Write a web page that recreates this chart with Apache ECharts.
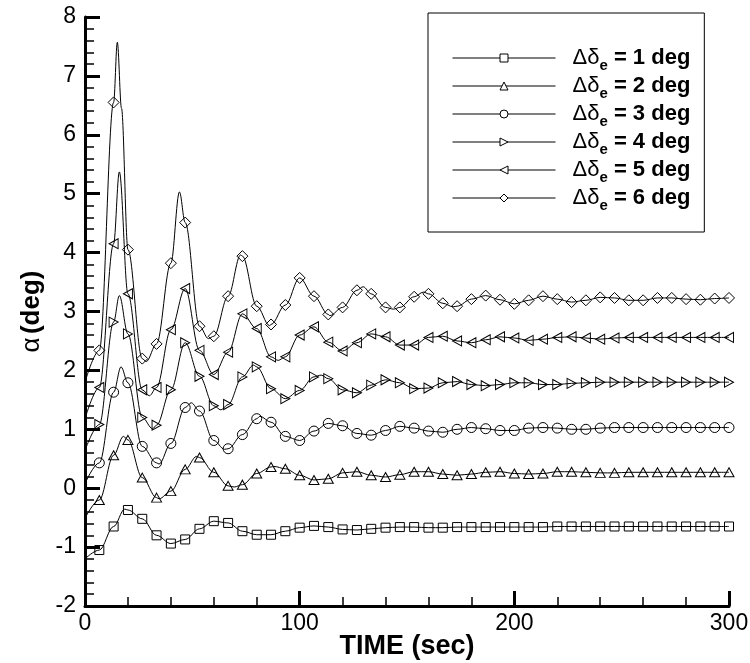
<!DOCTYPE html>
<html><head><meta charset="utf-8">
<script src="https://cdn.jsdelivr.net/npm/echarts@6/dist/echarts.min.js"></script>
<style>html,body{margin:0;padding:0;background:#fff}#c{width:750px;height:663px}</style>
</head><body><div id="c"></div>
<script>
// marker sample times (sec)
const MARK_TIMES = [6.67,13.33,20,26.67,33.33,40,46.67,53.33,60,66.67,73.33,80,86.67,93.33,100,106.67,113.33,120,126.67,133.33,140,146.67,153.33,160,166.67,173.33,180,186.67,193.33,200,206.67,213.33,220,226.67,233.33,240,246.67,253.33,260,266.67,273.33,280,286.67,293.33,300];
const DELTA_DEG = ['1','2','3','4','5','6'];
const START_VALUES = [-1.20, -0.51, 0.08, 0.64, 1.18, 1.80];

const MARKS_1 = [-1.05,-0.65,-0.37,-0.52,-0.80,-0.94,-0.87,-0.69,-0.56,-0.59,-0.73,-0.79,-0.79,-0.73,-0.67,-0.64,-0.66,-0.70,-0.71,-0.69,-0.67,-0.66,-0.66,-0.67,-0.67,-0.66,-0.66,-0.66,-0.66,-0.66,-0.66,-0.66,-0.65,-0.65,-0.65,-0.65,-0.65,-0.65,-0.65,-0.65,-0.65,-0.65,-0.65,-0.65,-0.65];
const MARKS_2 = [-0.20,0.56,0.82,0.18,-0.16,-0.05,0.32,0.52,0.27,0.04,0.06,0.25,0.36,0.33,0.22,0.14,0.16,0.26,0.28,0.22,0.19,0.23,0.28,0.28,0.24,0.22,0.24,0.27,0.28,0.25,0.24,0.25,0.28,0.28,0.27,0.26,0.26,0.27,0.27,0.27,0.27,0.27,0.27,0.27,0.27];
const MARKS_3 = [0.43,1.63,1.79,0.71,0.43,0.76,1.37,1.31,0.81,0.67,0.91,1.18,1.12,0.88,0.81,0.97,1.10,1.06,0.93,0.90,0.98,1.05,1.02,0.97,0.95,1.00,1.03,1.01,0.98,0.98,1.02,1.03,1.02,1.00,1.00,1.02,1.03,1.03,1.03,1.03,1.03,1.03,1.03,1.03,1.03];
const MARKS_4 = [1.08,2.82,2.62,1.20,1.07,1.67,2.47,1.90,1.40,1.42,1.89,2.06,1.69,1.52,1.66,1.89,1.86,1.67,1.62,1.75,1.84,1.79,1.69,1.70,1.79,1.81,1.76,1.74,1.76,1.79,1.79,1.76,1.76,1.78,1.79,1.80,1.80,1.80,1.80,1.80,1.80,1.80,1.80,1.80,1.80];
const MARKS_5 = [1.71,4.15,3.30,1.67,1.71,2.69,3.39,2.34,1.93,2.31,2.96,2.71,2.23,2.23,2.60,2.74,2.48,2.33,2.47,2.62,2.57,2.43,2.43,2.56,2.58,2.50,2.47,2.52,2.57,2.55,2.51,2.53,2.56,2.57,2.55,2.53,2.55,2.56,2.56,2.56,2.56,2.56,2.56,2.56,2.56];
const MARKS_6 = [2.34,6.55,4.05,2.20,2.45,3.82,4.51,2.75,2.58,3.26,3.94,3.09,2.78,3.11,3.57,3.26,2.95,3.07,3.36,3.30,3.07,3.07,3.25,3.30,3.14,3.09,3.21,3.27,3.20,3.13,3.19,3.26,3.21,3.16,3.19,3.24,3.23,3.19,3.19,3.23,3.23,3.21,3.20,3.22,3.23];

// extra curve points between markers (peaks / troughs), [time, alpha]
const EXTRA_1 = [[18.5,-0.355]];
const EXTRA_2 = [[17.9,0.88],[34.5,-0.18],[52,0.54],[69.5,0.02],[88,0.37]];
const EXTRA_3 = [[16.8,2.06],[34.5,0.41],[49.5,1.45],[65,0.66],[81.5,1.22]];
const EXTRA_4 = [[16,3.27],[31.5,1.01],[63.3,1.33],[78.5,2.09],[110,1.92]];
const EXTRA_5 = [[16,5.37],[30,1.57],[90,2.17]];
const EXTRA_6 = [[15.06,7.57],[17,6.45],[28.5,2.15],[44,5.03],[57.5,2.54],[72.5,3.96],[86,2.76],[114,2.93],[129.6,3.42],[143.7,3.04],[157.7,3.33],[171.5,3.08]];

const Y_MIN = -2, Y_MAX = 8, X_MIN = 0, X_MAX = 300;

const MARKS = [MARKS_1, MARKS_2, MARKS_3, MARKS_4, MARKS_5, MARKS_6];
const EXTRAS = [EXTRA_1, EXTRA_2, EXTRA_3, EXTRA_4, EXTRA_5, EXTRA_6];
const SYMBOLS = ['rect', 'triangle', 'circle', 'path://M0,0L10,5L0,10Z', 'path://M10,0L0,5L10,10Z', 'diamond'];
const SYMBOL_SIZES = [9, [10, 9], 10, [9, 10], [9, 10], 11];

function buildData(i) {
  const pts = [{ value: [0, START_VALUES[i]], symbol: 'none' }];
  MARK_TIMES.forEach((t, k) => pts.push({ value: [t, MARKS[i][k]] }));
  EXTRAS[i].forEach(p => pts.push({ value: [p[0], p[1]], symbol: 'none' }));
  pts.sort((a, b) => a.value[0] - b.value[0]);
  return pts;
}

const FONT = 'Liberation Sans, Arial, sans-serif';
const series = DELTA_DEG.map((d, i) => ({
  name: 'd' + d,
  type: 'line',
  data: buildData(i),
  smooth: 0.35,
  smoothMonotone: 'x',
  symbol: SYMBOLS[i],
  symbolSize: SYMBOL_SIZES[i],
  showSymbol: true,
  showAllSymbol: true,
  clip: false,
  lineStyle: { color: '#000', width: 1 },
  itemStyle: { color: 'rgba(255,255,255,0)', borderColor: '#000', borderWidth: 1 },
  emphasis: { disabled: true },
  animation: false
}));

const chart = echarts.init(document.getElementById('c'), null, { renderer: 'canvas' });
chart.setOption({
  backgroundColor: '#fff',
  animation: false,
  grid: { left: 85, right: 21, top: 17, bottom: 57, containLabel: false, outerBoundsMode: 'none' },
  legend: {
    orient: 'vertical',
    left: 428, top: 13,
    padding: [30, 14, 19, 24],
    backgroundColor: '#fff',
    borderColor: '#000',
    borderWidth: 1,
    borderRadius: 0,
    itemWidth: 103,
    itemHeight: 10,
    itemGap: -2,
    selectedMode: false,
    itemStyle: { color: '#fff', borderColor: '#000', borderWidth: 1 },
    lineStyle: { color: '#000', width: 1 },
    data: DELTA_DEG.map(d => 'd' + d),
    formatter: name => '{g|\u0394\u03b4}{s|e}{b| = ' + name.slice(1) + ' deg}',
    textStyle: {
      color: '#000',
      rich: {
        g: { fontFamily: FONT, fontSize: 22, fontWeight: 'normal', color: '#000', padding: [0, 0, 0, 12] },
        s: { fontFamily: FONT, fontSize: 15, fontWeight: 'bold', color: '#000', lineHeight: 15, padding: [15, 0, 0, 0] },
        b: { fontFamily: FONT, fontSize: 22, fontWeight: 'bold', color: '#000' }
      }
    }
  },
  xAxis: {
    type: 'value', min: X_MIN, max: X_MAX, interval: 100,
    name: 'TIME (sec)', nameLocation: 'middle', nameGap: 27, nameMoveOverlap: false,
    nameTextStyle: { fontFamily: FONT, fontSize: 27, fontWeight: 'bold', color: '#000' },
    axisLine: { show: true, onZero: false, lineStyle: { color: '#000', width: 3 } },
    axisTick: { show: true, inside: true, length: 15, lineStyle: { color: '#000', width: 3 } },
    minorTick: { show: true, splitNumber: 5, length: 9, lineStyle: { color: '#000', width: 1.5 } },
    splitLine: { show: false },
    axisLabel: { fontFamily: FONT, fontSize: 23, color: '#000', margin: 6 }
  },
  yAxis: {
    type: 'value', min: Y_MIN, max: Y_MAX, interval: 1,
    name: '{a|\u03b1} {b|(deg)}', nameLocation: 'middle', nameGap: 40, nameRotate: 90, nameMoveOverlap: false,
    nameTextStyle: {
      color: '#000',
      rich: {
        a: { fontFamily: FONT, fontSize: 26, fontWeight: 'normal', color: '#000' },
        b: { fontFamily: FONT, fontSize: 26, fontWeight: 'bold', color: '#000' }
      }
    },
    axisLine: { show: true, onZero: false, lineStyle: { color: '#000', width: 3 } },
    axisTick: { show: true, inside: true, length: 15, lineStyle: { color: '#000', width: 3 } },
    minorTick: { show: true, splitNumber: 5, length: 9, lineStyle: { color: '#000', width: 1.5 } },
    splitLine: { show: false },
    axisLabel: { fontFamily: FONT, fontSize: 23, color: '#000', margin: 9 }
  },
  series: series
});
</script></body></html>
